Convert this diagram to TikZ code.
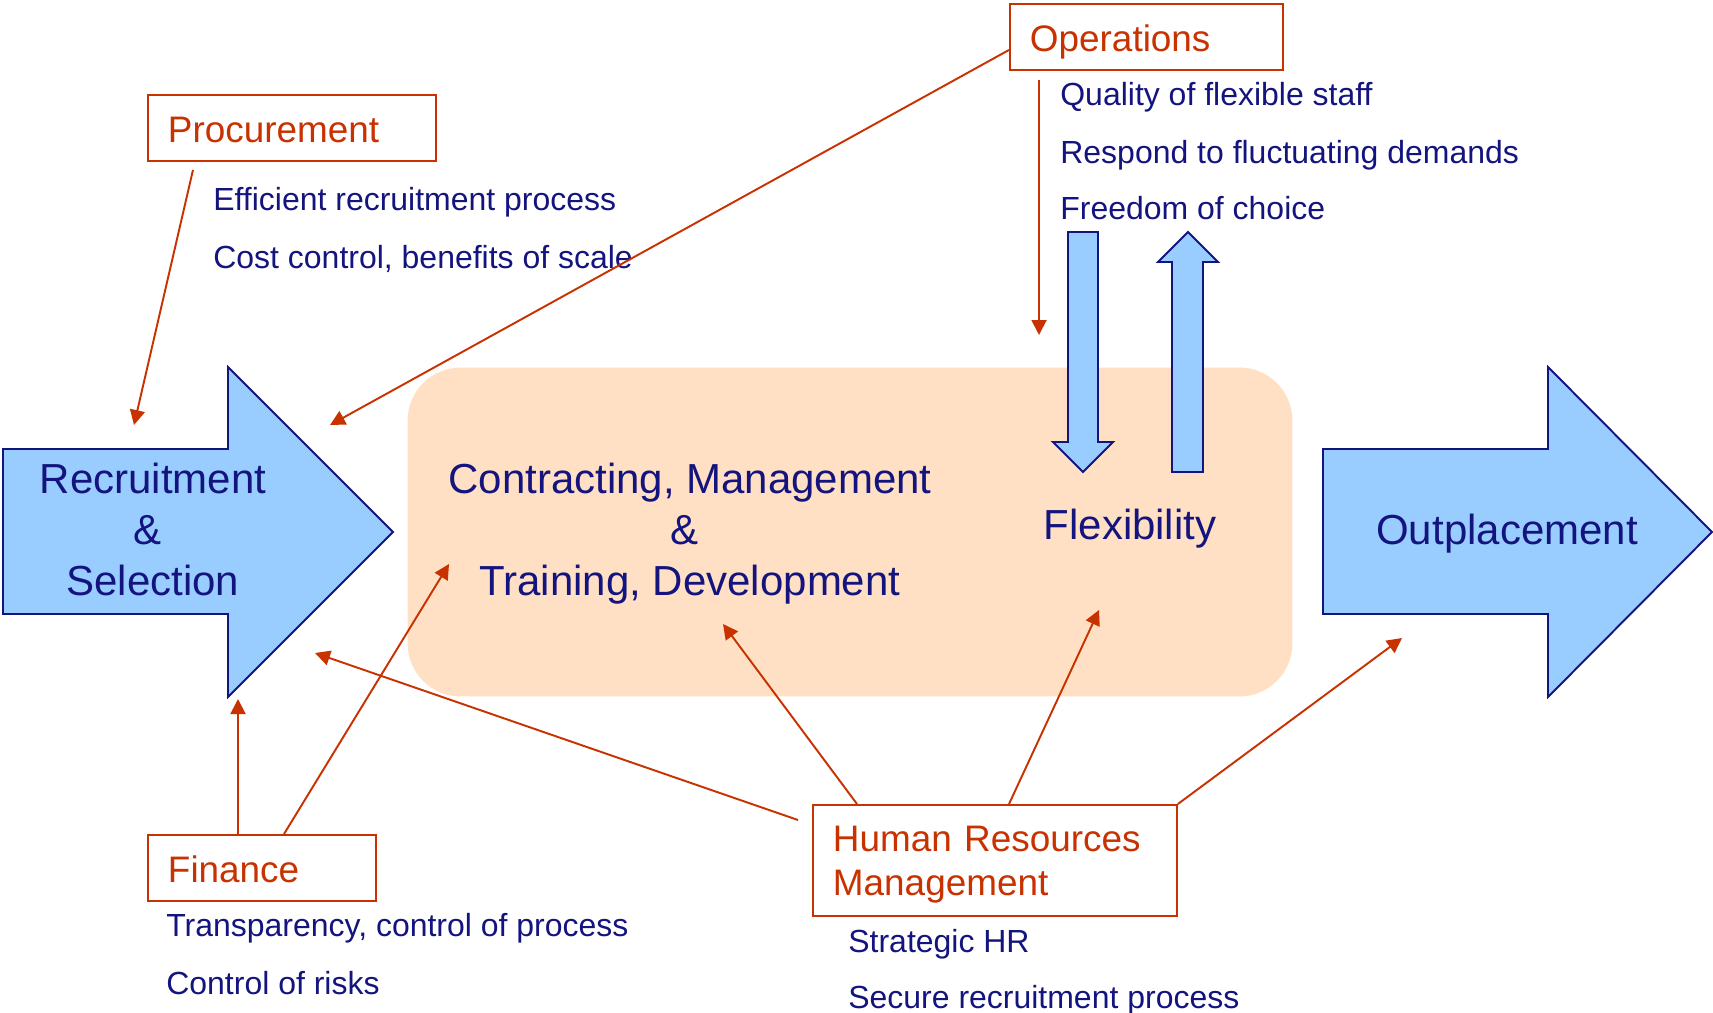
\documentclass[tikz,border=0pt]{standalone}
\usepackage{fontspec}
\setmainfont{Liberation Sans}
\usepackage{xcolor}
\definecolor{HRnavy}{HTML}{14147F}
\definecolor{HRorange}{HTML}{C83200}
\definecolor{HRblue}{HTML}{99CCFF}
\definecolor{HRpeach}{HTML}{FFE0C4}
\usetikzlibrary{arrows.meta}

\begin{document}
\begin{tikzpicture}[x=0.02cm, y=-0.02cm,
      rolebox/.style={draw=HRorange, line width=1.1pt, anchor=north west, align=left,
                      inner xsep=0.4cm, inner ysep=0pt, text height=0.96cm, text depth=0.36cm,
                      text=HRorange, font=\fontsize{21}{25}\selectfont},
      goal/.style={anchor=base west, inner sep=0pt, text=HRnavy, font=\fontsize{18.2}{22}\selectfont},
      stage/.style={anchor=base, align=center, inner sep=0pt, text=HRnavy, font=\fontsize{23.9}{29}\selectfont},
      core/.style={fill=HRpeach, rounded corners=1.06cm, inner sep=0pt,
                   minimum width=17.7cm, minimum height=6.58cm},
      bigarrow/.style={fill=HRblue, draw=HRnavy, line width=1.1pt},
      link/.style={-{Triangle[length=3mm, width=3mm]}, draw=HRorange, line width=1.1pt}
    ]
    \useasboundingbox (0,0) rectangle (1713,1013);
    \node[core] (core) at (850,532) {};
    \draw[bigarrow] (3,449) -- (228,449) -- (228,367) -- (393,532) -- (228,697) -- (228,614) -- (3,614) -- cycle;
    \draw[bigarrow] (1323,449) -- (1548,449) -- (1548,367) -- (1712,532) -- (1548,697) -- (1548,614) -- (1323,614) -- cycle;
    \draw[bigarrow] (1068,232) -- (1098,232) -- (1098,442) -- (1113,442) -- (1083,472) -- (1053,442) -- (1068,442) -- cycle;
    \draw[bigarrow] (1172,472) -- (1203,472) -- (1203,262) -- (1218,262) -- (1188,232) -- (1158,262) -- (1172,262) -- cycle;

    \node[stage] (recruit) at (153,595) {Recruitment\\\&\rule{0.28em}{0pt}\\Selection};
    \node[stage] (contract) at (690,595) {Contracting, Management\\\&\rule{0.28em}{0pt}\\Training, Development};
    \node[stage] (flex) at (1130,539) {Flexibility};
    \node[stage] (outplace) at (1507,544) {Outplacement};

    \node[rolebox, text width=4.96cm] (proc) at (147,94) {Procurement};
    \node[rolebox, text width=4.66cm] (ops) at (1009,3) {Operations};
    \node[rolebox, text width=3.76cm] (fin) at (147,834) {Finance};
    \node[rolebox, text width=6.48cm, text height=0.94cm, text depth=1.28cm] (hrm) at (812,804) {Human Resources\\Management};

    \node[goal] (effic) at (213,211) {Efficient recruitment process};
    \node[goal] (cost) at (213,269) {Cost control, benefits of scale};
    \node[goal] (quality) at (1060,106) {Quality of flexible staff};
    \node[goal] (respond) at (1060,164) {Respond to fluctuating demands};
    \node[goal] (choice) at (1060,220) {Freedom of choice};
    \node[goal] (transp) at (166,936) {Transparency, control of process};
    \node[goal] (risks) at (166,994) {Control of risks};
    \node[goal] (strat) at (848,952) {Strategic HR};
    \node[goal] (secure) at (848,1008) {Secure recruitment process};

    \coordinate (procTip) at (134,425);
    \coordinate (opsTip) at (330,425);
    \coordinate (opsDown) at (1039,335);
    \coordinate (finUp) at (238,699);
    \coordinate (finTip) at (449,564);
    \coordinate (hrmRec) at (315,653);
    \coordinate (hrmCon) at (723,624);
    \coordinate (hrmFlex) at (1099,610);
    \coordinate (hrmOut) at (1402,638);

    \draw[link] ([shift={(46,8)}]proc.south west) -- (procTip);
    \draw[link] ([shift={(0,13)}]ops.west) -- (opsTip);
    \draw[link] ([shift={(30,9)}]ops.south west) -- (opsDown);
    \draw[link] ([shift={(91,0)}]fin.north west) -- (finUp);
    \draw[link] ([shift={(137,0)}]fin.north west) -- (finTip);
    \draw[link] ([shift={(-14,16)}]hrm.north west) -- (hrmRec);
    \draw[link] ([shift={(45,0)}]hrm.north west) -- (hrmCon);
    \draw[link] ([shift={(197,0)}]hrm.north west) -- (hrmFlex);
    \draw[link] (hrm.north east) -- (hrmOut);
  \end{tikzpicture}
\end{document}
